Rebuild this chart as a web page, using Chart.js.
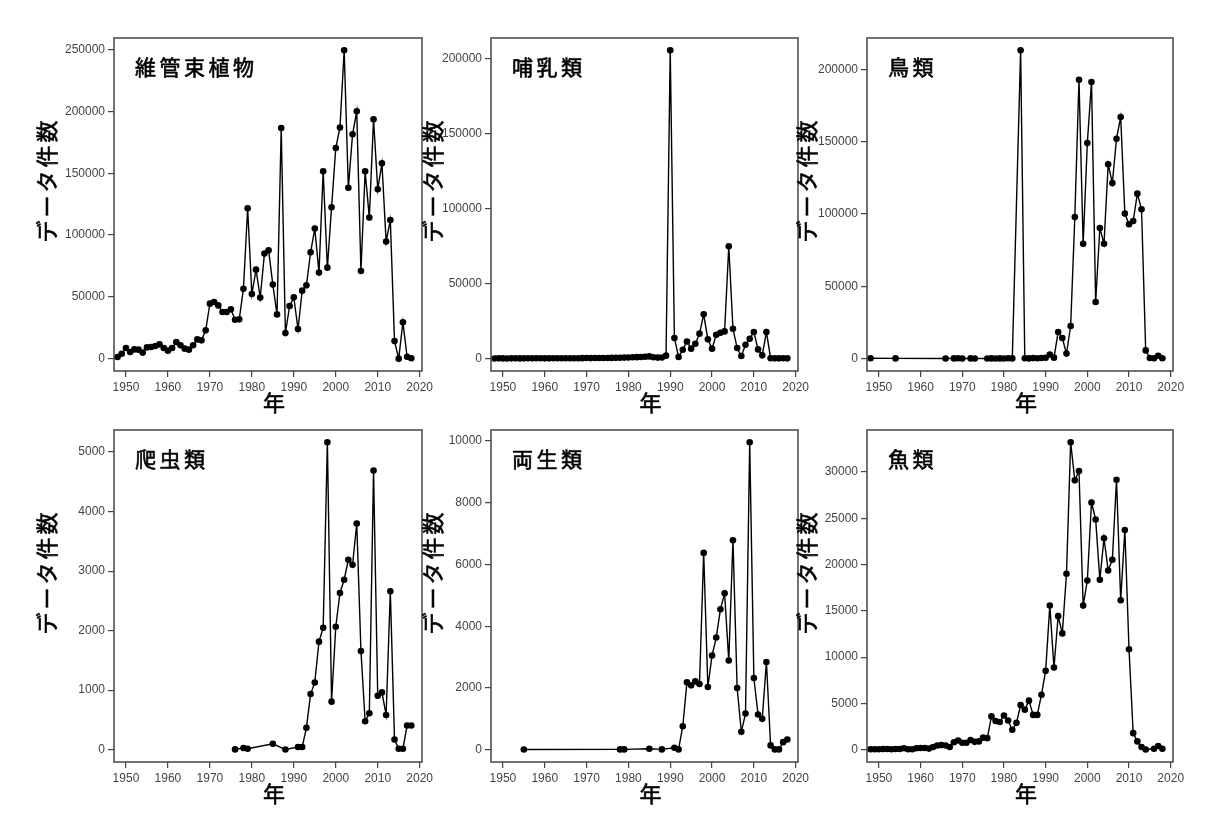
<!DOCTYPE html>
<html>
<head>
<meta charset="utf-8">
<script src="https://cdn.jsdelivr.net/npm/chart.js@4"></script>
<style>
  html, body { margin: 0; padding: 0; background: #fff; }
  body { width: 1230px; height: 822px; position: relative; overflow: hidden; }
  .panel { position: absolute; }
</style>
</head>
<body>
<script>
// 年 (1948〜2018)
const years = [
  1948, 1949, 1950, 1951, 1952, 1953, 1954, 1955, 1956, 1957,
  1958, 1959, 1960, 1961, 1962, 1963, 1964, 1965, 1966, 1967,
  1968, 1969, 1970, 1971, 1972, 1973, 1974, 1975, 1976, 1977,
  1978, 1979, 1980, 1981, 1982, 1983, 1984, 1985, 1986, 1987,
  1988, 1989, 1990, 1991, 1992, 1993, 1994, 1995, 1996, 1997,
  1998, 1999, 2000, 2001, 2002, 2003, 2004, 2005, 2006, 2007,
  2008, 2009, 2010, 2011, 2012, 2013, 2014, 2015, 2016, 2017,
  2018
];

// 分類群ごとのデータ件数 (null = データなし)
const plantCounts = [
  1300, 4000, 8600, 5400, 7500, 7300, 4900, 9100, 9400, 10200,
  11600, 8600, 6500, 8600, 13400, 10800, 8100, 7300, 10800, 15600,
  14800, 22900, 44500, 45800, 43100, 37700, 37700, 39900, 31500, 31800,
  56600, 121600, 52300, 72000, 49400, 85000, 87600, 59900, 35800, 186600,
  20700, 42600, 49600, 24000, 55000, 59300, 86000, 105200, 69600, 151500,
  73600, 122400, 170400, 186900, 249400, 138300, 181500, 200100, 70900, 151500,
  114100, 193600, 137000, 158000, 94700, 112100, 14200, 0, 29500, 1500,
  300
];
const mammalCounts = [
  150, 200, 180, 150, 200, 220, 180, 200, 250, 200,
  230, 250, 200, 220, 260, 280, 250, 300, 280, 300,
  320, 350, 400, 380, 420, 450, 400, 480, 500, 550,
  600, 700, 800, 900, 1000, 1100, 1300, 1500, 900, 700,
  800, 2000, 205800, 13800, 1100, 6000, 11500, 6700, 10000, 16700,
  29600, 12900, 6700, 16000, 17300, 18200, 75000, 20000, 7100, 1800,
  9300, 13300, 17800, 6200, 2200, 17800, 300, 200, 200, 300,
  200
];
const birdCounts = [
  300, null, null, null, null, null, 200, null, null, null,
  null, null, null, null, null, null, null, null, 100, null,
  200, 300, 100, null, 200, 100, null, null, 100, 200,
  100, 200, 100, 300, 200, null, 213200, 300, 200, 400,
  300, 500, 600, 2800, 700, 18400, 14300, 3500, 22600, 97900,
  192900, 79500, 149100, 191300, 39200, 90300, 79500, 134400, 121400, 152100,
  167100, 100300, 92900, 95200, 114100, 103300, 5700, 500, 300, 2000,
  300
];
const reptileCounts = [
  null, null, null, null, null, null, null, null, null, null,
  null, null, null, null, null, null, null, null, null, null,
  null, null, null, null, null, null, null, null, 5, null,
  28, 17, null, null, null, null, null, 100, null, null,
  3, null, null, 45, 45, 367, 935, 1130, 1815, 2048,
  5164, 807, 2065, 2632, 2855, 3189, 3105, 3800, 1658, 479,
  612, 4691, 907, 963, 584, 2660, 172, 17, 17, 406,
  406
];
const amphibianCounts = [
  null, null, null, null, null, null, null, 5, null, null,
  null, null, null, null, null, null, null, null, null, null,
  null, null, null, null, null, null, null, null, null, null,
  10, 10, null, null, null, null, null, 30, null, null,
  10, null, null, 64, 10, 761, 2181, 2085, 2213, 2128,
  6375, 2032, 3052, 3633, 4548, 5064, 2891, 6784, 2000, 580,
  1171, 9957, 2322, 1139, 1000, 2839, 139, 10, 10, 245,
  332
];
const fishCounts = [
  50, 50, 50, 80, 80, 50, 80, 80, 150, 50,
  50, 150, 180, 180, 120, 300, 450, 500, 450, 300,
  800, 1000, 750, 750, 1050, 850, 900, 1300, 1250, 3600,
  3100, 3000, 3690, 3150, 2150, 2900, 4830, 4330, 5300, 3760,
  3760, 5940, 8520, 15570, 8880, 14430, 12570, 19010, 33220, 29110,
  30110, 15570, 18290, 26710, 24880, 18370, 22850, 19370, 20520, 29180,
  16150, 23740, 10850, 1790, 900, 300, 30, null, 100, 400,
  100
];

// 目盛り
const yearTicks = [1950, 1960, 1970, 1980, 1990, 2000, 2010, 2020];
const plantTicks = [0, 50000, 100000, 150000, 200000, 250000];
const mammalTicks = [0, 50000, 100000, 150000, 200000];
const birdTicks = [0, 50000, 100000, 150000, 200000];
const reptileTicks = [0, 1000, 2000, 3000, 4000, 5000];
const amphibianTicks = [0, 2000, 4000, 6000, 8000, 10000];
const fishTicks = [0, 5000, 10000, 15000, 20000, 25000, 30000];

const yTitle = 'データ件数';
const xTitle = '年';

// パネル配置 (枠の位置, px)
const panels = [
  { title: '維管束植物', values: plantCounts, ticks: plantTicks, left: 114, top: 38, width: 308, height: 333, yOff: 67 },
  { title: '哺乳類', values: mammalCounts, ticks: mammalTicks, left: 490.5, top: 38, width: 307, height: 333, yOff: 58 },
  { title: '鳥類', values: birdCounts, ticks: birdTicks, left: 866.5, top: 38, width: 306, height: 333, yOff: 60 },
  { title: '爬虫類', values: reptileCounts, ticks: reptileTicks, left: 114, top: 430, width: 308, height: 332, yOff: 67 },
  { title: '両生類', values: amphibianCounts, ticks: amphibianTicks, left: 490.5, top: 430, width: 307, height: 332, yOff: 58 },
  { title: '魚類', values: fishCounts, ticks: fishTicks, left: 866.5, top: 430, width: 306, height: 332, yOff: 60 }
];

const PAD_L = 110, PAD_T = 38, PAD_R = 20, PAD_B = 50;
const cjkFont = '"Noto Sans CJK JP", "Noto Sans", sans-serif';
const tickFont = { family: '"Liberation Sans", Arial, sans-serif', size: 12 };
const axisColor = '#444';

// 少し太めの文字 (塗り + 細い縁取り)
function heavyText(ctx, text, x, y) {
  ctx.fillText(text, x, y);
  ctx.strokeText(text, x, y);
}

// 枠・パネル名・軸ラベルを描く
const panelText = {
  id: 'panelText',
  afterDraw(chart, args, opts) {
    const { ctx, chartArea: a } = chart;
    ctx.save();
    ctx.strokeStyle = axisColor;
    ctx.lineWidth = 1.5;
    ctx.strokeRect(a.left, a.top, a.right - a.left, a.bottom - a.top);

    ctx.fillStyle = '#000';
    ctx.strokeStyle = '#000';
    ctx.lineWidth = 0.6;
    ctx.lineJoin = 'round';
    ctx.textBaseline = 'middle';
    ctx.letterSpacing = '3.5px';
    ctx.font = '21px ' + cjkFont;
    ctx.textAlign = 'left';
    heavyText(ctx, opts.title, a.left + 21, a.top + 29);

    ctx.letterSpacing = '3px';
    ctx.font = '22px ' + cjkFont;
    ctx.textAlign = 'center';
    ctx.save();
    ctx.translate(a.left - opts.yOff, a.top + 142);
    ctx.rotate(-Math.PI / 2);
    heavyText(ctx, yTitle, 0, 0);
    ctx.restore();

    ctx.letterSpacing = '0px';
    heavyText(ctx, xTitle, (a.left + a.right) / 2 + 6, a.bottom + 32);
    ctx.restore();
  }
};

panels.forEach(p => {
  const div = document.createElement('div');
  div.className = 'panel';
  div.style.left = (p.left - PAD_L) + 'px';
  div.style.top = (p.top - PAD_T) + 'px';
  div.style.width = (p.width + PAD_L + PAD_R) + 'px';
  div.style.height = (p.height + PAD_T + PAD_B) + 'px';
  const canvas = document.createElement('canvas');
  div.appendChild(canvas);
  document.body.appendChild(div);

  const points = years
    .map((yr, i) => ({ x: yr, y: p.values[i] }))
    .filter(d => d.y !== null);
  const maxVal = Math.max(...points.map(d => d.y));

  new Chart(canvas, {
    type: 'line',
    data: {
      datasets: [{
        data: points,
        borderColor: '#000',
        borderWidth: 1.4,
        backgroundColor: '#000',
        pointRadius: 3.3,
        pointBorderWidth: 0,
        tension: 0
      }]
    },
    options: {
      responsive: true,
      maintainAspectRatio: false,
      animation: false,
      layout: { padding: { left: 0, top: PAD_T, right: PAD_R, bottom: 0 } },
      plugins: {
        legend: { display: false },
        tooltip: { enabled: false },
        panelText: { title: p.title, yOff: p.yOff }
      },
      scales: {
        x: {
          type: 'linear',
          min: 1947.15,
          max: 2020.55,
          afterFit: s => { s.height = PAD_B; },
          afterBuildTicks: s => { s.ticks = yearTicks.map(v => ({ value: v })); },
          grid: { display: true, drawOnChartArea: false, drawTicks: true, tickLength: 6, color: axisColor, lineWidth: 1.2 },
          border: { display: false },
          ticks: { color: axisColor, font: tickFont, maxRotation: 0, autoSkip: false, padding: 3, callback: v => String(v) }
        },
        y: {
          type: 'linear',
          min: -0.04 * maxVal,
          max: 1.04 * maxVal,
          afterFit: s => { s.width = PAD_L; },
          afterBuildTicks: s => { s.ticks = p.ticks.map(v => ({ value: v })); },
          grid: { display: true, drawOnChartArea: false, drawTicks: true, tickLength: 6, color: axisColor, lineWidth: 1.2 },
          border: { display: false },
          ticks: { color: axisColor, font: tickFont, autoSkip: false, padding: 3, callback: v => String(v) }
        }
      }
    },
    plugins: [panelText]
  });
});
</script>
</body>
</html>
